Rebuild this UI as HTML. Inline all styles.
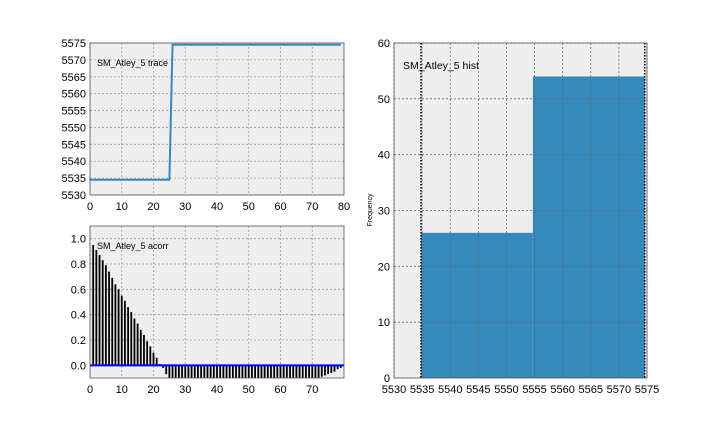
<!DOCTYPE html>
<html><head><meta charset="utf-8"><style>
body{margin:0;background:#fff;}
svg{display:block;font-family:"Liberation Sans",sans-serif;}
</style></head><body>
<svg id="c" width="720" height="432"></svg>
<script>
const traceIdx=[0,25,26,79];
const traceVals=[5534.5,5534.5,5574.5,5574.5];
const traceTicksY=[5530,5535,5540,5545,5550,5555,5560,5565,5570,5575];
const traceTicksX=[0,10,20,30,40,50,60,70,80];
const acorrLags=[];for(let i=1;i<=79;i++)acorrLags.push(i);
const acorrVals=[0.95,0.91,0.87,0.83,0.79,0.74,0.69,0.64,0.60,0.55,0.51,0.46,0.42,0.37,0.33,0.28,0.24,0.19,0.15,0.10,0.06,0.01,-0.02,-0.07,
-0.12,-0.12,-0.12,-0.12,-0.12,-0.12,-0.12,-0.12,-0.12,-0.12,-0.12,-0.12,-0.12,-0.12,-0.12,-0.12,-0.12,-0.12,-0.12,-0.12,-0.12,-0.12,-0.12,-0.12,
-0.12,-0.12,-0.12,-0.12,-0.12,-0.12,-0.12,-0.12,-0.12,-0.12,-0.12,-0.12,-0.12,-0.12,-0.12,-0.12,-0.12,-0.12,-0.12,-0.12,-0.12,-0.12,-0.12,-0.12,
-0.09,-0.08,-0.07,-0.06,-0.05,-0.03,-0.02];
const acorrTicksY=[0.0,0.2,0.4,0.6,0.8,1.0];
const acorrTicksX=[0,10,20,30,40,50,60,70];
const histEdges=[5534.8,5554.7,5574.6];
const histCounts=[26,54];
const histTicksX=[5530,5535,5540,5545,5550,5555,5560,5565,5570,5575];
const histTicksY=[0,10,20,30,40,50,60];

const NS="http://www.w3.org/2000/svg";
const svg=document.getElementById('c');
function el(t,a,p){const e=document.createElementNS(NS,t);for(const k in a)e.setAttribute(k,a[k]);(p||svg).appendChild(e);return e;}
function lin(d0,d1,r0,r1){return v=>r0+(v-d0)*(r1-r0)/(d1-d0);}

function axes(name,x0,y0,x1,y1,sx,sy,tx,ty,fmtY,title,tcx){
  const g=el('g',{});
  const bg=el('rect',{x:x0,y:y0,width:x1-x0,height:y1-y0,fill:'#eeeeee'},g);
  
  const grid=el('g',{stroke:'#999',"stroke-dasharray":'2,2','stroke-width':0.8},g);
  
  tx.forEach(v=>{el('line',{x1:sx(v),x2:sx(v),y1:y0,y2:y1},grid);
    const t=el('text',{x:sx(v),y:y1+15,'font-size':11,'text-anchor':'middle'},g);t.textContent=v;
    });
  ty.forEach(v=>{el('line',{x1:x0,x2:x1,y1:sy(v),y2:sy(v)},grid);
    const t=el('text',{x:x0-4,y:sy(v)+4,'font-size':11,'text-anchor':'end'},g);t.textContent=fmtY(v);
    });
  const lab=el('text',{x:x0+7,y:y0+(tcx||0),'font-size':9},g);lab.textContent=title;
  
  return g;
}
function frame(g,x0,y0,x1,y1){el('rect',{x:x0,y:y0,width:x1-x0,height:y1-y0,fill:'none',stroke:'#555','stroke-width':0.8},g);}

// trace
{const x0=90,x1=344,y0=43,y1=195;
 const sx=lin(0,80,x0,x1),sy=lin(5530,5575,y1,y0);
 const g=axes('trace-panel',x0,y0,x1,y1,sx,sy,traceTicksX,traceTicksY,v=>v,'SM_Atley_5 trace',23);
 const pts=traceIdx.map((v,i)=>sx(v)+','+sy(traceVals[i])).join(' ');
 const l=el('polyline',{points:pts,fill:'none',stroke:'#348ABD','stroke-width':2},g);
 
 frame(g,x0,y0,x1,y1);}
// acorr
{const x0=90,x1=344,y0=226,y1=378;
 const sx=lin(0,80,x0,x1),sy=lin(-0.1,1.1,y1,y0);
 const g=axes('acorr-panel',x0,y0,x1,y1,sx,sy,acorrTicksX,acorrTicksY,v=>v.toFixed(1),'SM_Atley_5 acorr',23);
 const cp=el('clipPath',{id:'ac'},g);el('rect',{x:x0,y:y0,width:x1-x0,height:y1-y0},cp);
 const bg=el('g',{'clip-path':'url(#ac)'},g);
 acorrLags.forEach((k,i)=>{const v=acorrVals[i];const b=el('rect',{x:sx(k)-0.9,y:Math.min(sy(v),sy(0)),width:1.8,height:Math.abs(sy(v)-sy(0)),fill:'#000'},bg);
   });
 const z=el('line',{x1:x0,x2:x1,y1:sy(0),y2:sy(0),stroke:'#0000ff','stroke-width':2},g);
 
 frame(g,x0,y0,x1,y1);}
// hist
{const x0=394,x1=647,y0=43,y1=378;
 const sx=lin(5530,5575,x0,x1),sy=lin(0,60,y1,y0);
 const g=svg.appendChild(document.createElementNS(NS,'g'));
 
 el('rect',{x:x0,y:y0,width:x1-x0,height:y1-y0,fill:'#eeeeee'},g);
 histCounts.forEach((c,i)=>{const b=el('rect',{x:sx(histEdges[i]),y:sy(c),width:sx(histEdges[i+1])-sx(histEdges[i]),height:sy(0)-sy(c),fill:'#348ABD'},g);
   });
 const grid=el('g',{stroke:'#666',"stroke-dasharray":'2,2','stroke-width':0.8},g);
 histTicksX.forEach(v=>{el('line',{x1:sx(v),x2:sx(v),y1:y0,y2:y1},grid);
   const t=el('text',{x:sx(v),y:y1+15,'font-size':11,'text-anchor':'middle'},g);t.textContent=v;
   });
 histTicksY.forEach(v=>{el('line',{x1:x0,x2:x1,y1:sy(v),y2:sy(v)},grid);
   const t=el('text',{x:x0-4,y:sy(v)+4,'font-size':11,'text-anchor':'end'},g);t.textContent=v;
   });
 [histEdges[0],histEdges[histEdges.length-1]].forEach(v=>{el('line',{x1:sx(v),x2:sx(v),y1:y0,y2:y1,stroke:'#000','stroke-dasharray':'1.5,1.5','stroke-width':1.5},g);});
 const lab=el('text',{x:403,y:69,'font-size':10.5},g);lab.textContent='SM_Atley_5 hist';
 
 const yl=el('text',{x:0,y:0,'font-size':7,'text-anchor':'middle',transform:'translate(372,210) rotate(-90)'},g);yl.textContent='Frequency';
 
 frame(g,x0,y0,x1,y1);}
</script>
</body></html>
